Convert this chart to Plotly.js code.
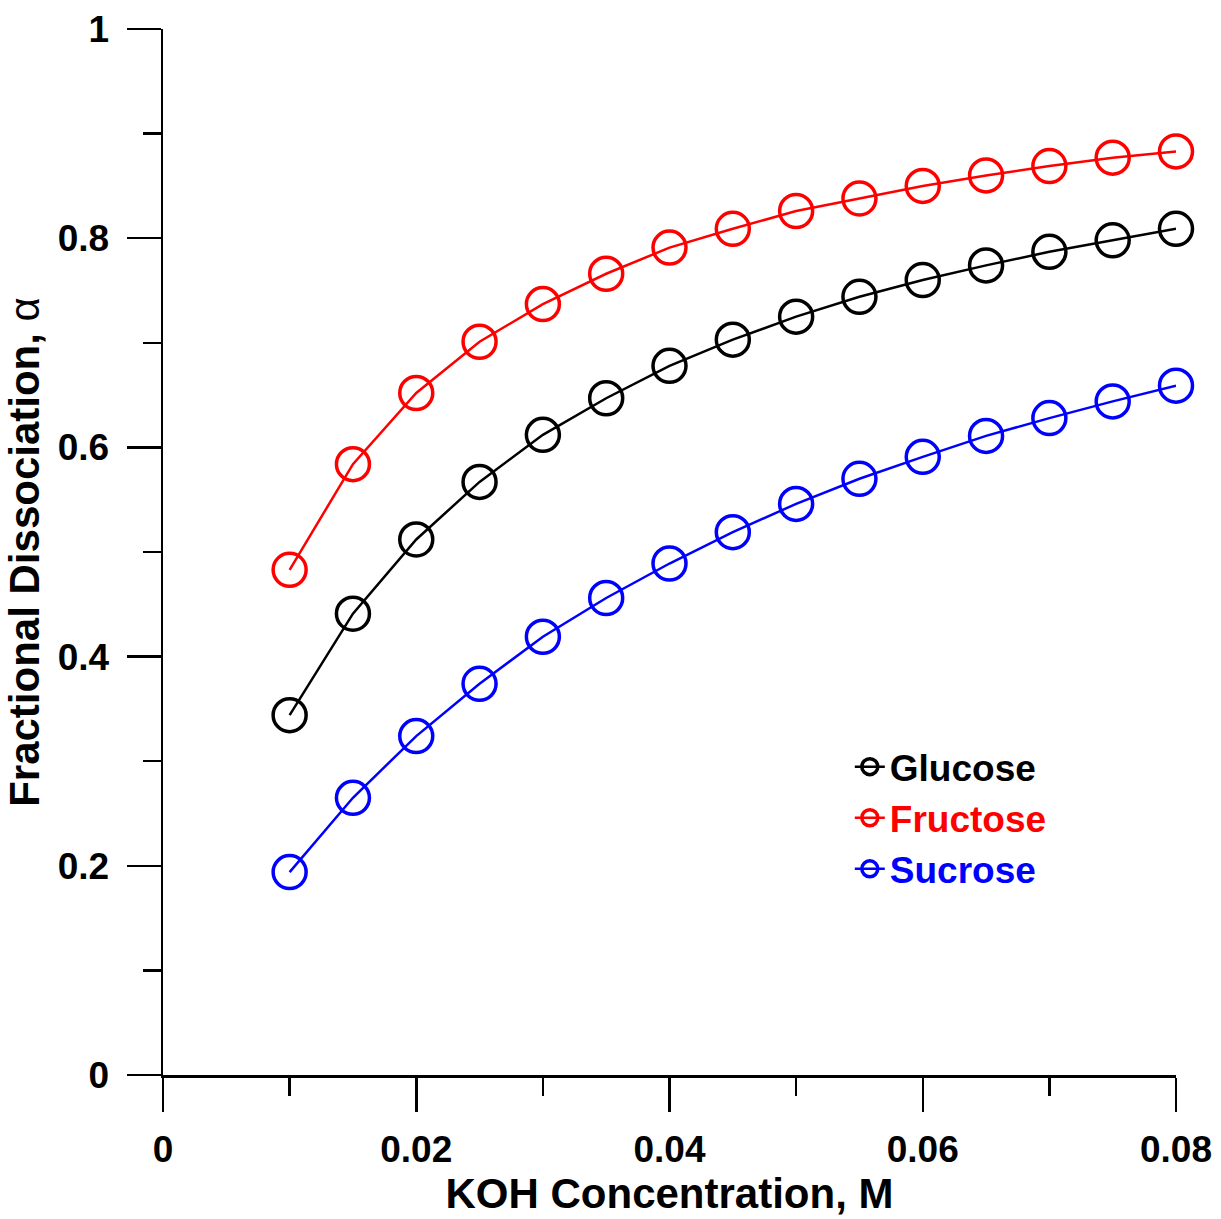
<!DOCTYPE html>
<html>
<head>
<meta charset="utf-8">
<script src="https://cdn.plot.ly/plotly-3.0.1.min.js"></script>
<style>html,body{margin:0;padding:0;background:#fff;}</style>
</head>
<body>
<div id="chart" style="width:1221px;height:1219px;"></div>
<script>
const koh = [0.01,0.015,0.02,0.025,0.03,0.035,0.04,0.045,0.05,0.055,0.06,0.065,0.07,0.075,0.08];
const glucose = [0.344,0.441,0.512,0.567,0.612,0.647,0.678,0.703,0.725,0.744,0.760,0.774,0.787,0.798,0.809];
const fructose = [0.483,0.584,0.652,0.701,0.737,0.766,0.791,0.809,0.826,0.838,0.850,0.860,0.869,0.877,0.883];
const sucrose = [0.194,0.265,0.324,0.374,0.419,0.456,0.489,0.519,0.546,0.570,0.591,0.611,0.628,0.644,0.659];
const seriesNames = ['Glucose','Fructose','Sucrose'];
const seriesColors = ['#000000','#ff0000','#0000ff'];
const xTickVals = [0,0.02,0.04,0.06,0.08];
const xTickText = ['0','0.02','0.04','0.06','0.08'];
const yTickVals = [0,0.2,0.4,0.6,0.8,1];
const yTickText = ['0','0.2','0.4','0.6','0.8','1'];

const FONT = 'Liberation Sans, Arial, sans-serif';
const data = [glucose, fructose, sucrose].map((ys, i) => ({
  type: 'scatter',
  mode: 'lines+markers',
  x: koh,
  y: ys,
  name: '<span style="color:' + seriesColors[i] + '">' + seriesNames[i] + '</span>',
  line: {color: seriesColors[i], width: 2.5},
  marker: {symbol: 'circle-open', size: 33, color: seriesColors[i], line: {color: seriesColors[i], width: 3.5}},
  cliponaxis: false
}));

const axisCommon = {
  showgrid: false, zeroline: false, showline: true, linecolor: '#000', linewidth: 2.5,
  ticks: 'outside', ticklen: 34, tickwidth: 2.5, tickcolor: '#000',
  tickfont: {family: FONT, size: 37, color: '#000', weight: 'bold'},
  mirror: false
};

const layout = {
  width: 1221, height: 1219,
  margin: {l: 163, r: 45, t: 29, b: 144},
  paper_bgcolor: '#fff', plot_bgcolor: '#fff',
  showlegend: true,
  legend: {
    x: 0.678, y: 0.324, xanchor: 'left', yanchor: 'top',
    font: {family: FONT, size: 37, weight: 'bold'},
    bgcolor: 'rgba(0,0,0,0)', itemwidth: 30, tracegroupgap: 0
  },
  xaxis: Object.assign({}, axisCommon, {
    range: [0, 0.08], tickmode: 'array', tickvals: xTickVals, ticktext: xTickText,
    ticklabelstandoff: 6,
    minor: {dtick: 0.01, tick0: 0, ticks: 'outside', ticklen: 18, tickwidth: 2.5, tickcolor: '#000', showgrid: false},
    title: {text: 'KOH Concentration, M', font: {family: FONT, size: 42, color: '#000', weight: 'bold'}, standoff: 10}
  }),
  yaxis: Object.assign({}, axisCommon, {
    range: [0, 1], tickmode: 'array', tickvals: yTickVals, ticktext: yTickText,
    ticklabelstandoff: 10,
    minor: {dtick: 0.1, tick0: 0, ticks: 'outside', ticklen: 18, tickwidth: 2.5, tickcolor: '#000', showgrid: false},
    title: {text: 'Fractional Dissociation, <span style="font-weight:normal">α</span>', font: {family: FONT, size: 42, color: '#000', weight: 'bold'}, standoff: 5}
  })
};

Plotly.newPlot('chart', data, layout, {staticPlot: true});
</script>
</body>
</html>
